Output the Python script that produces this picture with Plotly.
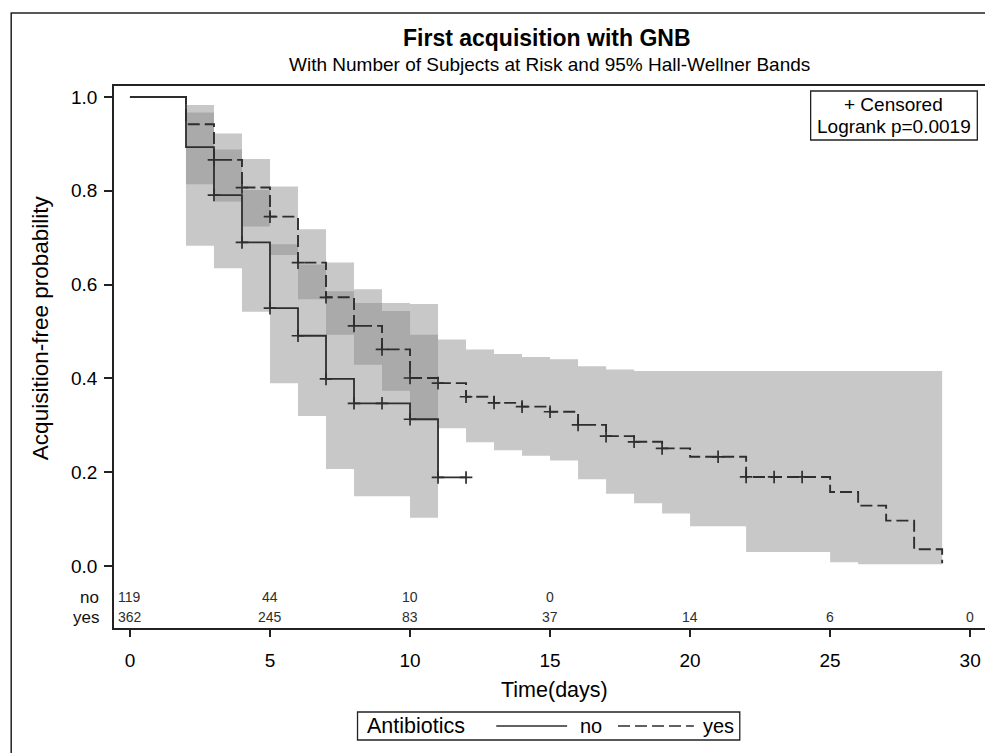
import plotly.graph_objects as go

# ---------------- data ----------------
# Kaplan-Meier step curves (time of step, survival after step)
no_t = [0, 2, 3, 4, 5, 6, 7, 8, 10, 11]
no_s = [1.0, 0.893, 0.791, 0.690, 0.550, 0.491, 0.399, 0.347, 0.313, 0.189]
no_end = 12

yes_t = [0, 2, 3, 4, 5, 6, 7, 8, 9, 10, 11, 12, 13, 14, 15, 16, 17, 18, 19,
         20, 22, 25, 26, 27, 28, 29]
yes_s = [1.0, 0.942, 0.866, 0.807, 0.745, 0.647, 0.573, 0.512, 0.462, 0.401,
         0.390, 0.361, 0.348, 0.340, 0.329, 0.301, 0.277, 0.265, 0.251,
         0.233, 0.190, 0.158, 0.129, 0.097, 0.036, 0.006]

# censored observations
no_cens_t = [3, 4, 5, 6, 7, 8, 9, 10, 11, 12]
no_cens_s = [0.791, 0.690, 0.550, 0.491, 0.399, 0.347, 0.347, 0.313, 0.189, 0.189]
yes_cens_t = [3, 4, 5, 6, 7, 8, 9, 10, 11, 12, 13, 14, 15, 16, 17, 18, 19,
              21, 22, 23, 24]
yes_cens_s = [0.866, 0.807, 0.745, 0.647, 0.573, 0.512, 0.462, 0.401, 0.390,
              0.361, 0.348, 0.340, 0.329, 0.301, 0.277, 0.265, 0.251,
              0.233, 0.190, 0.190, 0.190]

# Hall-Wellner bands: knots and interval values
no_band_t = [2, 3, 4, 5, 6, 7, 8, 9, 10, 11]
no_band_up = [0.967, 0.888, 0.802, 0.686, 0.643, 0.586, 0.561, 0.561, 0.559]
no_band_lo = [0.683, 0.635, 0.542, 0.390, 0.320, 0.207, 0.149, 0.149, 0.103]

yes_band_t = list(range(2, 30))
yes_band_up = [0.983, 0.922, 0.868, 0.809, 0.718, 0.647, 0.590, 0.544, 0.493,
               0.483, 0.462, 0.452, 0.446, 0.441, 0.426, 0.419,
               0.416, 0.416, 0.416, 0.416, 0.416, 0.416, 0.416, 0.416, 0.416,
               0.416, 0.416]
yes_band_lo = [0.814, 0.777, 0.724, 0.663, 0.569, 0.493, 0.429, 0.374, 0.311,
               0.294, 0.264, 0.247, 0.235, 0.225, 0.185, 0.154, 0.134, 0.112,
               0.085, 0.085, 0.030, 0.030, 0.030, 0.008, 0.004, 0.004, 0.004]

# number at risk
risk_times = [0, 5, 10, 15, 20, 25, 30]
risk_no = [119, 44, 10, 0]
risk_yes = [362, 245, 83, 37, 14, 6, 0]
risk_y = {"no": -0.066, "yes": -0.109}

x_ticks = [0, 5, 10, 15, 20, 25, 30]
y_ticks = [0.0, 0.2, 0.4, 0.6, 0.8, 1.0]

# ---------------- layout geometry (page pixel coords, body margin 8) ----------------
OFF = 8
W, H = 993 - OFF, 753 - OFF
PL, PR, PT, PB = 114, 986.7, 86, 628          # plot area on page
L, T = PL - OFF, PT - OFF
R, B = W - (PR - OFF), H - (PB - OFF)
PW, PH = W - L - R, H - T - B


def px(xp):
    return (xp - PL) / PW


def py(yp):
    return 1 - (yp - PT) / PH


FONT = "Liberation Sans, Arial, Helvetica, sans-serif"
NARROW = "Liberation Sans Narrow, Arial Narrow, Liberation Sans, Arial, sans-serif"
LINE = "#2e2e2e"
AX = "#222222"
BAND = "rgba(134,134,134,0.455)"


def band_polygon(knots, up, lo):
    xs, ys = [], []
    for i in range(len(up)):
        xs += [knots[i], knots[i + 1]]
        ys += [up[i], up[i]]
    for i in range(len(lo) - 1, -1, -1):
        xs += [knots[i + 1], knots[i]]
        ys += [lo[i], lo[i]]
    xs.append(xs[0])
    ys.append(ys[0])
    return xs, ys


fig = go.Figure()

for knots, up, lo in [(no_band_t, no_band_up, no_band_lo),
                      (yes_band_t, yes_band_up, yes_band_lo)]:
    bx, by = band_polygon(knots, up, lo)
    fig.add_trace(go.Scatter(x=bx, y=by, mode="lines", fill="toself",
                             fillcolor=BAND, line=dict(width=0),
                             showlegend=False, hoverinfo="skip"))

fig.add_trace(go.Scatter(x=no_t + [no_end], y=no_s + [no_s[-1]], mode="lines",
                         line=dict(color=LINE, width=1.8, shape="hv"),
                         showlegend=False))
fig.add_trace(go.Scatter(x=yes_t, y=yes_s, mode="lines",
                         line=dict(color=LINE, width=1.9, shape="hv",
                                   dash="12px,5px"),
                         showlegend=False))

for ct, cs in [(no_cens_t, no_cens_s), (yes_cens_t, yes_cens_s)]:
    fig.add_trace(go.Scatter(x=ct, y=cs, mode="markers",
                             marker=dict(symbol="cross-thin", size=9,
                                         line=dict(color=LINE, width=1.7)),
                             showlegend=False))

annotations = []


def ann(x, y, text, size, xref="paper", yref="paper", xanchor="center",
        family=FONT, color="#000", **kw):
    annotations.append(dict(x=x, y=y, xref=xref, yref=yref, text=text,
                            xanchor=xanchor, yanchor="middle", showarrow=False,
                            font=dict(family=family, size=size, color=color), **kw))


# risk table
for t, n in zip(risk_times, risk_no):
    ann(t, risk_y["no"], str(n), 14, xref="x", yref="y", family=NARROW, color=LINE)
for t, n in zip(risk_times, risk_yes):
    ann(t, risk_y["yes"], str(n), 14, xref="x", yref="y", family=NARROW, color=LINE)
for lab in ["no", "yes"]:
    ann(px(101), risk_y[lab], lab, 17, yref="y", xanchor="right", color="#111")

# titles
ann(px(548), py(38), "<b>First acquisition with GNB</b>", 23)
ann(px(550), py(64), "With Number of Subjects at Risk and 95% Hall-Wellner Bands", 19)
ann(px(40), py(328), "Acquisition-free probability", 22.5, textangle=-90)
ann(px(555), py(690), "Time(days)", 21.5)

# censored / logrank box
ann(px(895.5), py(105), "+ Censored", 19)
ann(px(895.5), py(127), "Logrank p=0.0019", 19)

# legend
ann(px(365), py(726), "Antibiotics", 21.5, xanchor="left")
ann(px(579), py(726), "no", 20, xanchor="left")
ann(px(702), py(726), "yes", 20, xanchor="left")

shapes = [
    # outer frame (left/top visible, rest clipped)
    dict(type="rect", xref="paper", yref="paper", x0=px(11), x1=px(1020),
         y0=py(780), y1=py(13), line=dict(color="#222", width=1.5)),
    # censored box
    dict(type="rect", xref="paper", yref="paper", x0=px(812), x1=px(979),
         y0=py(140), y1=py(91), line=dict(color="#222", width=1.3)),
    # legend box
    dict(type="rect", xref="paper", yref="paper", x0=px(358), x1=px(741),
         y0=py(740), y1=py(712), line=dict(color="#222", width=1.3)),
    dict(type="line", xref="paper", yref="paper", x0=px(497), x1=px(568),
         y0=py(726), y1=py(726), line=dict(color=LINE, width=1.7)),
    dict(type="line", xref="paper", yref="paper", x0=px(619), x1=px(695),
         y0=py(726), y1=py(726), line=dict(color=LINE, width=1.7, dash="12px,5px")),
]

fig.update_layout(
    width=W, height=H,
    margin=dict(l=L, r=R, t=T, b=B, pad=0),
    paper_bgcolor="white", plot_bgcolor="white",
    font=dict(family=FONT, size=16, color="#000"),
    showlegend=False,
    annotations=annotations,
    shapes=shapes,
    xaxis=dict(range=[-0.57, 30.53], tickvals=x_ticks, showgrid=False,
               zeroline=False, showline=True, mirror=True, linecolor=AX,
               linewidth=1.5, ticks="outside", ticklen=7, tickwidth=1.5,
               tickcolor=AX, ticklabelstandoff=7,
               tickfont=dict(family=FONT, size=19, color="#000")),
    yaxis=dict(range=[-0.132, 1.0235], tickvals=y_ticks, tickformat=".1f",
               showgrid=False, zeroline=False, showline=True, mirror=True,
               linecolor=AX, linewidth=1.5, ticks="outside", ticklen=8,
               tickwidth=1.5, tickcolor=AX, ticklabelstandoff=3,
               tickfont=dict(family=FONT, size=19, color="#000")),
)

fig.write_html("out.html")
